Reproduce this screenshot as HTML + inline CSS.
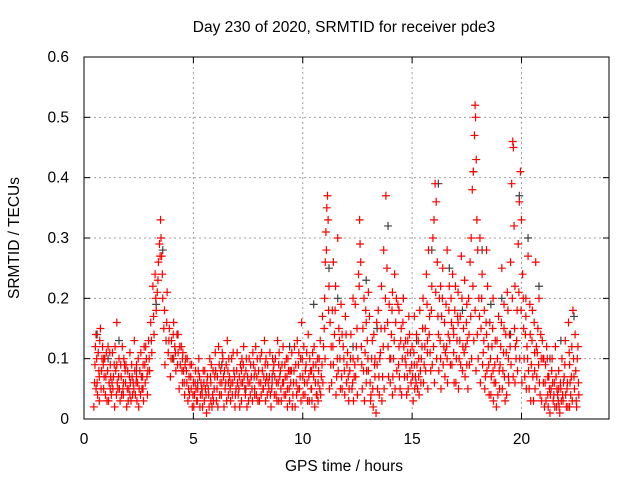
<!DOCTYPE html>
<html><head><meta charset="utf-8"><style>
body{margin:0;background:#fff}
svg{display:block;font-family:"Liberation Sans",sans-serif}
</style></head><body>
<svg id="chart" width="640" height="480" viewBox="0 0 640 480" xmlns="http://www.w3.org/2000/svg">
<rect width="640" height="480" fill="#fff"/>
<text x="344" y="32" font-size="15.5" text-anchor="middle">Day 230 of 2020, SRMTID for receiver pde3</text>
<g id="grid"></g>
<g id="ticks"></g>
<g id="black"></g>
<g id="red"></g>
<rect x="84" y="57" width="525" height="362" fill="none" stroke="#000" stroke-width="1"/>
<text x="344" y="471" font-size="15.5" text-anchor="middle">GPS time / hours</text>
<text transform="translate(19,238) rotate(-90)" font-size="15.5" text-anchor="middle">SRMTID / TECUs</text>
</svg>
<script>
const xTicks=[0,5,10,15,20];
const yTicks=[0,0.1,0.2,0.3,0.4,0.5,0.6];
const yTickLabels=["0","0.1","0.2","0.3","0.4","0.5","0.6"];
const blackData=[[0.6,0.14],[1.1,0.1],[1.6,0.13],[2.4,0.08],[3.3,0.19],[3.6,0.28],[4.1,0.1],[5.2,0.06],[6.3,0.09],[7.4,0.05],[8.6,0.07],[9.4,0.12],[10.5,0.19],[11.2,0.25],[11.6,0.2],[12.3,0.12],[12.9,0.23],[13.4,0.15],[13.9,0.32],[14.6,0.2],[15.2,0.13],[15.9,0.28],[16.2,0.39],[16.7,0.25],[17.3,0.18],[17.8,0.41],[18.2,0.28],[18.6,0.19],[19.1,0.2],[19.5,0.14],[19.9,0.37],[20.3,0.3],[20.8,0.22],[21.3,0.1],[21.8,0.13],[22.4,0.17]];
const redData=[
[0.45,0.02],[0.5,0.09],[0.55,0.14],[0.6,0.06],[0.65,0.11],[0.7,0.03],[0.75,0.15],[0.8,0.08],[0.85,0.12],[0.9,0.05],[0.95,0.1],[1.0,0.07],[1.05,0.03],[1.1,0.12],[1.15,0.06],[1.2,0.09],[1.25,0.04],[1.3,0.11],[1.35,0.07],[1.4,0.02],[1.45,0.08],[1.5,0.16],[1.55,0.05],[1.6,0.1],[1.65,0.03],[1.7,0.07],[1.75,0.12],[1.8,0.04],[1.85,0.09],[1.9,0.06],[1.95,0.02],[2.0,0.08],[2.05,0.05],[2.1,0.11],[2.15,0.03],[2.2,0.07],[2.25,0.06],[2.3,0.13],[2.35,0.04],[2.4,0.09],[2.45,0.06],[2.5,0.02],[2.55,0.08],[2.6,0.11],[2.65,0.05],[2.7,0.09],[2.75,0.12],[2.8,0.06],[2.85,0.1],[2.9,0.04],[2.95,0.13],[3.0,0.08],[3.05,0.16],[3.1,0.11],[3.15,0.22],[3.2,0.14],[3.25,0.24],[3.3,0.18],[3.35,0.21],[3.4,0.26],[3.45,0.29],[3.5,0.33],[3.52,0.3],[3.55,0.27],[3.6,0.2],[3.65,0.15],[3.7,0.09],[3.75,0.13],[3.8,0.21],[3.85,0.11],[3.9,0.15],[3.95,0.07],[4.0,0.13],[4.05,0.1],[4.1,0.16],[4.15,0.12],[4.2,0.08],[4.25,0.14],[4.3,0.11],[4.35,0.05],[4.4,0.09],[4.45,0.12],[4.5,0.06],[4.55,0.08],[4.6,0.04],[4.65,0.1],[4.7,0.06],[4.75,0.03],[4.8,0.07],[4.85,0.09],[4.9,0.05],[4.95,0.02],[5.0,0.06],[5.05,0.04],[5.1,0.08],[5.15,0.03],[5.2,0.05],[5.25,0.1],[5.3,0.02],[5.35,0.06],[5.4,0.04],[5.45,0.08],[5.5,0.03],[5.55,0.05],[5.6,0.01],[5.65,0.07],[5.7,0.04],[5.75,0.1],[5.8,0.06],[5.85,0.02],[5.9,0.08],[5.95,0.05],[6.0,0.11],[6.05,0.03],[6.1,0.07],[6.15,0.12],[6.2,0.04],[6.25,0.08],[6.3,0.06],[6.35,0.1],[6.4,0.02],[6.45,0.05],[6.5,0.09],[6.55,0.13],[6.6,0.04],[6.65,0.07],[6.7,0.03],[6.75,0.1],[6.8,0.06],[6.85,0.08],[6.9,0.02],[6.95,0.05],[7.0,0.11],[7.05,0.04],[7.1,0.07],[7.15,0.09],[7.2,0.03],[7.25,0.06],[7.3,0.12],[7.35,0.05],[7.4,0.08],[7.45,0.02],[7.5,0.06],[7.55,0.1],[7.6,0.04],[7.65,0.07],[7.7,0.03],[7.75,0.09],[7.8,0.05],[7.85,0.12],[7.9,0.07],[7.95,0.03],[8.0,0.06],[8.05,0.1],[8.1,0.04],[8.15,0.08],[8.2,0.05],[8.25,0.13],[8.3,0.03],[8.35,0.07],[8.4,0.09],[8.45,0.05],[8.5,0.11],[8.55,0.02],[8.6,0.06],[8.65,0.08],[8.7,0.04],[8.75,0.1],[8.8,0.06],[8.85,0.13],[8.9,0.03],[8.95,0.07],[9.0,0.05],[9.05,0.09],[9.1,0.12],[9.15,0.04],[9.2,0.07],[9.25,0.1],[9.3,0.05],[9.35,0.08],[9.4,0.03],[9.45,0.06],[9.5,0.11],[9.55,0.04],[9.6,0.08],[9.65,0.02],[9.7,0.06],[9.75,0.13],[9.8,0.09],[9.85,0.05],[9.9,0.1],[9.95,0.16],[10.0,0.07],[10.05,0.12],[10.1,0.04],[10.15,0.09],[10.2,0.06],[10.25,0.14],[10.3,0.03],[10.35,0.08],[10.4,0.05],[10.45,0.11],[10.5,0.07],[10.55,0.02],[10.6,0.09],[10.65,0.04],[10.7,0.06],[10.75,0.1],[10.8,0.13],[10.85,0.07],[10.9,0.17],[10.95,0.12],[11.0,0.2],[11.03,0.26],[11.06,0.31],[11.1,0.35],[11.13,0.37],[11.16,0.33],[11.2,0.22],[11.25,0.16],[11.3,0.12],[11.35,0.18],[11.4,0.09],[11.45,0.14],[11.5,0.22],[11.55,0.07],[11.6,0.3],[11.65,0.15],[11.7,0.1],[11.75,0.19],[11.8,0.05],[11.85,0.12],[11.9,0.08],[11.95,0.17],[12.0,0.06],[12.05,0.11],[12.1,0.03],[12.15,0.08],[12.2,0.14],[12.25,0.05],[12.3,0.1],[12.35,0.07],[12.4,0.19],[12.45,0.12],[12.5,0.04],[12.55,0.24],[12.6,0.33],[12.62,0.29],[12.65,0.26],[12.7,0.09],[12.75,0.15],[12.8,0.2],[12.85,0.11],[12.9,0.06],[12.95,0.13],[13.0,0.08],[13.05,0.17],[13.1,0.03],[13.15,0.1],[13.2,0.05],[13.25,0.14],[13.3,0.07],[13.35,0.01],[13.4,0.09],[13.45,0.18],[13.5,0.04],[13.55,0.11],[13.6,0.22],[13.65,0.07],[13.7,0.28],[13.75,0.15],[13.8,0.37],[13.85,0.25],[13.9,0.12],[13.95,0.19],[14.0,0.06],[14.05,0.14],[14.1,0.21],[14.15,0.1],[14.2,0.24],[14.25,0.16],[14.3,0.08],[14.35,0.19],[14.4,0.12],[14.45,0.05],[14.5,0.15],[14.55,0.1],[14.6,0.2],[14.65,0.07],[14.7,0.13],[14.75,0.04],[14.8,0.11],[14.85,0.17],[14.9,0.08],[14.95,0.06],[15.0,0.12],[15.05,0.03],[15.1,0.09],[15.15,0.07],[15.2,0.14],[15.25,0.05],[15.3,0.1],[15.35,0.18],[15.4,0.06],[15.45,0.12],[15.5,0.2],[15.55,0.09],[15.6,0.15],[15.65,0.24],[15.7,0.11],[15.75,0.28],[15.8,0.17],[15.85,0.08],[15.9,0.22],[15.95,0.3],[16.0,0.33],[16.05,0.39],[16.1,0.36],[16.15,0.26],[16.2,0.14],[16.25,0.2],[16.3,0.1],[16.35,0.17],[16.4,0.25],[16.45,0.12],[16.5,0.07],[16.55,0.19],[16.6,0.28],[16.65,0.14],[16.7,0.22],[16.75,0.09],[16.8,0.16],[16.85,0.24],[16.9,0.11],[16.95,0.18],[17.0,0.06],[17.05,0.13],[17.1,0.21],[17.15,0.1],[17.2,0.17],[17.25,0.27],[17.3,0.08],[17.35,0.15],[17.4,0.23],[17.45,0.12],[17.5,0.19],[17.55,0.05],[17.6,0.14],[17.65,0.26],[17.7,0.3],[17.75,0.38],[17.8,0.41],[17.85,0.47],[17.88,0.52],[17.9,0.5],[17.93,0.43],[17.96,0.33],[18.0,0.28],[18.05,0.2],[18.1,0.3],[18.15,0.15],[18.2,0.24],[18.25,0.11],[18.3,0.18],[18.35,0.07],[18.4,0.14],[18.45,0.22],[18.5,0.09],[18.55,0.16],[18.6,0.04],[18.65,0.12],[18.7,0.2],[18.75,0.06],[18.8,0.13],[18.85,0.02],[18.9,0.1],[18.95,0.17],[19.0,0.05],[19.05,0.12],[19.1,0.25],[19.15,0.08],[19.2,0.15],[19.25,0.03],[19.3,0.11],[19.35,0.21],[19.4,0.07],[19.45,0.14],[19.5,0.26],[19.55,0.39],[19.6,0.46],[19.63,0.45],[19.66,0.32],[19.7,0.22],[19.75,0.1],[19.8,0.18],[19.85,0.29],[19.9,0.36],[19.95,0.41],[20.0,0.33],[20.05,0.24],[20.1,0.15],[20.15,0.07],[20.2,0.2],[20.25,0.12],[20.3,0.27],[20.35,0.05],[20.4,0.14],[20.45,0.09],[20.5,0.18],[20.55,0.03],[20.6,0.11],[20.65,0.26],[20.7,0.07],[20.75,0.15],[20.8,0.2],[20.85,0.04],[20.9,0.1],[20.95,0.13],[21.0,0.06],[21.05,0.02],[21.1,0.09],[21.15,0.12],[21.2,0.04],[21.25,0.07],[21.3,0.01],[21.35,0.05],[21.4,0.1],[21.45,0.03],[21.5,0.06],[21.55,0.12],[21.6,0.02],[21.65,0.04],[21.7,0.08],[21.75,0.01],[21.8,0.05],[21.85,0.1],[21.9,0.03],[21.95,0.07],[22.0,0.13],[22.05,0.02],[22.1,0.06],[22.15,0.16],[22.2,0.09],[22.25,0.04],[22.3,0.12],[22.35,0.18],[22.4,0.07],[22.45,0.14],[22.5,0.03],[22.55,0.1],[22.6,0.06],
[0.7,0.07],[0.9,0.1],[1.2,0.05],[1.5,0.09],[1.8,0.06],[2.1,0.04],[2.4,0.07],[2.7,0.05],[4.3,0.14],[4.5,0.1],[5.4,0.05],[5.8,0.03],[6.6,0.06],[7.2,0.08],[7.8,0.04],[8.3,0.06],[8.9,0.09],[9.3,0.02],[10.4,0.08],[10.7,0.03],[11.4,0.26],[11.8,0.14],[12.3,0.2],[12.9,0.16],[13.3,0.1],[14.1,0.04],[14.4,0.18],[14.8,0.13],[15.3,0.07],[15.7,0.13],[16.3,0.22],[16.6,0.1],[17.1,0.16],[17.5,0.09],[18.4,0.28],[18.7,0.08],[19.2,0.19],[19.7,0.06],[20.2,0.17],[20.6,0.08],[21.2,0.07],[21.7,0.05],[22.2,0.02],[0.55,0.05],[13.0,0.21],[15.1,0.17],[16.9,0.14],[19.4,0.1]
];
const redDataExtra=[
[0.48,0.06],[0.58,0.1],[0.68,0.08],[0.78,0.05],[0.88,0.09],[0.98,0.04],[1.08,0.08],[1.18,0.11],[1.28,0.06],[1.38,0.09],[1.48,0.04],[1.58,0.07],[1.68,0.09],[1.78,0.05],[1.88,0.08],[1.98,0.05],[2.08,0.07],[2.18,0.09],[2.28,0.05],[2.38,0.06],[2.48,0.1],[2.58,0.04],[2.68,0.07],[2.78,0.09],[2.88,0.07],[2.98,0.1],[3.08,0.13],[3.18,0.17],[3.28,0.2],[3.38,0.23],[3.48,0.27],[3.58,0.24],[3.68,0.18],[3.78,0.16],[3.88,0.13],[3.98,0.1],[4.08,0.14],[4.18,0.11],[4.28,0.09],[4.38,0.12],[4.48,0.08],[4.58,0.06],[4.68,0.08],[4.78,0.05],[4.88,0.07],[4.98,0.04],[5.08,0.06],[5.18,0.03],[5.28,0.07],[5.38,0.05],[5.48,0.06],[5.58,0.04],[5.68,0.05],[5.78,0.07],[5.88,0.04],[5.98,0.07],[6.08,0.05],[6.18,0.09],[6.28,0.04],[6.38,0.07],[6.48,0.06],[6.58,0.08],[6.68,0.05],[6.78,0.04],[6.88,0.07],[6.98,0.08],[7.08,0.05],[7.18,0.06],[7.28,0.09],[7.38,0.04],[7.48,0.07],[7.58,0.06],[7.68,0.05],[7.78,0.07],[7.88,0.04],[7.98,0.08],[8.08,0.06],[8.18,0.05],[8.28,0.09],[8.38,0.04],[8.48,0.07],[8.58,0.05],[8.68,0.09],[8.78,0.04],[8.88,0.06],[8.98,0.08],[9.08,0.06],[9.18,0.09],[9.28,0.07],[9.38,0.05],[9.48,0.08],[9.58,0.06],[9.68,0.09],[9.78,0.05],[9.88,0.07],[9.98,0.1],[10.08,0.06],[10.18,0.11],[10.28,0.07],[10.38,0.05],[10.48,0.09],[10.58,0.06],[10.68,0.1],[10.78,0.05],[10.88,0.09],[10.98,0.15],[11.08,0.28],[11.18,0.18],[11.28,0.09],[11.38,0.12],[11.48,0.18],[11.58,0.1],[11.68,0.13],[11.78,0.07],[11.88,0.1],[11.98,0.14],[12.08,0.07],[12.18,0.1],[12.28,0.06],[12.38,0.09],[12.48,0.15],[12.58,0.22],[12.68,0.12],[12.78,0.08],[12.88,0.18],[12.98,0.1],[13.08,0.06],[13.18,0.13],[13.28,0.09],[13.38,0.16],[13.48,0.07],[13.58,0.15],[13.68,0.12],[13.78,0.2],[13.88,0.16],[13.98,0.1],[14.08,0.18],[14.18,0.13],[14.28,0.2],[14.38,0.09],[14.48,0.13],[14.58,0.16],[14.68,0.1],[14.78,0.07],[14.88,0.14],[14.98,0.09],[15.08,0.11],[15.18,0.06],[15.28,0.13],[15.38,0.08],[15.48,0.15],[15.58,0.12],[15.68,0.19],[15.78,0.14],[15.88,0.18],[15.98,0.12],[16.08,0.21],[16.18,0.17],[16.28,0.13],[16.38,0.2],[16.48,0.16],[16.58,0.12],[16.68,0.18],[16.78,0.2],[16.88,0.15],[16.98,0.22],[17.08,0.17],[17.18,0.13],[17.28,0.2],[17.38,0.11],[17.48,0.16],[17.58,0.2],[17.68,0.17],[17.78,0.22],[17.88,0.18],[17.98,0.14],[18.08,0.17],[18.18,0.2],[18.28,0.13],[18.38,0.16],[18.48,0.12],[18.58,0.1],[18.68,0.15],[18.78,0.09],[18.88,0.13],[18.98,0.08],[19.08,0.16],[19.18,0.11],[19.28,0.14],[19.38,0.18],[19.48,0.12],[19.58,0.2],[19.68,0.15],[19.78,0.13],[19.88,0.21],[19.98,0.18],[20.08,0.2],[20.18,0.14],[20.28,0.1],[20.38,0.19],[20.48,0.13],[20.58,0.16],[20.68,0.12],[20.78,0.09],[20.88,0.14],[20.98,0.1],[21.08,0.06],[21.18,0.1],[21.28,0.05],[21.38,0.08],[21.48,0.04],[21.58,0.07],[21.68,0.03],[21.78,0.06],[21.88,0.04],[21.98,0.09],[22.08,0.05],[22.18,0.11],[22.28,0.07],[22.38,0.1],[22.48,0.08],[22.58,0.12],
[0.52,0.12],[0.62,0.04],[0.72,0.13],[0.82,0.1],[0.92,0.07],[1.02,0.11],[1.12,0.03],[1.22,0.07],[1.32,0.05],[1.42,0.12],[1.52,0.06],[1.62,0.05],[1.72,0.04],[1.82,0.1],[1.92,0.09],[2.02,0.03],[2.12,0.06],[2.22,0.04],[2.32,0.08],[2.42,0.03],[2.52,0.05],[2.62,0.07],[2.72,0.03],[2.82,0.12],[2.92,0.08],[4.52,0.11],[4.62,0.09],[4.72,0.1],[4.82,0.04],[4.92,0.09],[5.02,0.02],[5.12,0.05],[5.22,0.08],[5.32,0.04],[5.42,0.02],[5.52,0.08],[5.62,0.06],[5.72,0.02],[5.82,0.09],[5.92,0.03],[6.02,0.08],[6.12,0.02],[6.22,0.06],[6.32,0.11],[6.42,0.08],[6.52,0.03],[6.62,0.1],[6.72,0.06],[6.82,0.11],[6.92,0.04],[7.02,0.06],[7.12,0.02],[7.22,0.1],[7.32,0.07],[7.42,0.1],[7.52,0.03],[7.62,0.09],[7.72,0.11],[7.82,0.08],[7.92,0.1],[8.02,0.03],[8.12,0.11],[8.22,0.07],[8.32,0.1],[8.42,0.06],[8.52,0.04],[8.62,0.1],[8.72,0.07],[8.82,0.03],[8.92,0.11],[9.02,0.03],[9.12,0.06],[9.22,0.04],[9.32,0.1],[9.42,0.08],[9.52,0.02],[9.62,0.12],[9.72,0.04],[9.82,0.11],[9.92,0.03],[10.02,0.04],[10.12,0.08],[10.22,0.03],[10.32,0.1],[10.42,0.03],[10.52,0.12],[10.62,0.04],[10.72,0.08],[10.82,0.04],[10.92,0.06],[11.02,0.1],[11.22,0.05],[11.32,0.06],[11.52,0.04],[11.62,0.08],[11.72,0.05],[11.92,0.04],[12.02,0.09],[12.12,0.05],[12.32,0.03],[12.42,0.07],[12.52,0.1],[12.72,0.05],[12.82,0.03],[12.92,0.08],[13.12,0.04],[13.22,0.02],[13.42,0.05],[13.52,0.1],[13.62,0.03],[13.72,0.05],[13.92,0.07],[14.02,0.1],[14.12,0.07],[14.22,0.05],[14.42,0.07],[14.52,0.04],[14.62,0.12],[14.72,0.09],[14.82,0.05],[14.92,0.11],[15.02,0.07],[15.12,0.05],[15.22,0.09],[15.32,0.04],[15.42,0.1],[15.52,0.06],[15.62,0.08],[15.72,0.05],[15.82,0.11],[15.92,0.09],[16.02,0.06],[16.12,0.1],[16.22,0.08],[16.32,0.05],[16.42,0.09],[16.52,0.11],[16.62,0.06],[16.72,0.13],[16.82,0.09],[16.92,0.06],[17.02,0.1],[17.12,0.05],[17.22,0.09],[17.32,0.12],[17.42,0.07],[17.52,0.13],[17.62,0.09],[17.72,0.1],[17.82,0.13],[17.92,0.08],[18.02,0.1],[18.12,0.06],[18.22,0.09],[18.32,0.05],[18.42,0.08],[18.52,0.04],[18.62,0.07],[18.72,0.03],[18.82,0.06],[18.92,0.04],[19.02,0.09],[19.12,0.05],[19.22,0.07],[19.32,0.04],[19.42,0.06],[19.52,0.09],[19.62,0.07],[19.72,0.12],[19.82,0.08],[19.92,0.1],[20.02,0.06],[20.12,0.1],[20.22,0.05],[20.32,0.08],[20.42,0.03],[20.52,0.07],[20.62,0.05],[20.72,0.11],[20.82,0.06],[20.92,0.03],[21.02,0.1],[21.12,0.03],[21.22,0.02],[21.32,0.04],[21.42,0.06],[21.52,0.02],[21.62,0.05],[21.72,0.02],[21.82,0.03],[21.92,0.06],[22.02,0.04],[22.12,0.02],[22.22,0.06],[22.32,0.03],[22.42,0.05],[22.52,0.02],[22.62,0.04]
];
const X0=84,X1=609,Y0=419,Y1=57,XMAX=24,YMAX=0.6;
function xs(v){return X0+(v/XMAX)*(X1-X0);}
function ys(v){return Y0-(v/YMAX)*(Y0-Y1);}
const NS="http://www.w3.org/2000/svg";
const grid=document.getElementById('grid'),ticks=document.getElementById('ticks');
function line(g,x1,y1,x2,y2,st,dash){const l=document.createElementNS(NS,'line');l.setAttribute('x1',x1);l.setAttribute('y1',y1);l.setAttribute('x2',x2);l.setAttribute('y2',y2);l.setAttribute('stroke',st);if(dash)l.setAttribute('stroke-dasharray',dash);g.appendChild(l);return l;}
function txt(g,x,y,s,anchor){const t=document.createElementNS(NS,'text');t.setAttribute('x',x);t.setAttribute('y',y);t.setAttribute('font-size','15.5');t.setAttribute('text-anchor',anchor);t.textContent=s;g.appendChild(t);return t;}
xTicks.forEach(v=>{const x=xs(v);
 if(v>0){const gl=line(grid,x,Y1,x,Y0,'#a0a0a0','2,3');
 
 }
 line(ticks,x,Y0,x,Y0-6,'#000');line(ticks,x,Y1,x,Y1+6,'#000');
 const t=txt(ticks,x,444,String(v),'middle');
 
 });
yTicks.forEach((v,i)=>{const y=ys(v);
 if(v>0&&v<YMAX){const gl=line(grid,X0,y,X1,y,'#a0a0a0','2,3');
 
 }
 line(ticks,X0,y,X0+6,y,'#000');line(ticks,X1,y,X1-6,y,'#000');
 const t=txt(ticks,69,y+5,yTickLabels[i],'end');
 
 });
function plot(gid,data,color,tag){const g=document.getElementById(gid);let d='';
 data.forEach(p=>{const x=xs(p[0]),y=ys(p[1]);d+='M'+(x-4)+' '+y+'h8M'+x+' '+(y-4)+'v8';});
 const pa=document.createElementNS(NS,'path');pa.setAttribute('d',d);pa.setAttribute('stroke',color);pa.setAttribute('stroke-width','1.2');pa.setAttribute('fill','none');
 
 
 g.appendChild(pa);}
plot('black',blackData,'#404040','black-points');
plot('red',redData,'#ff0000','red-points');
plot('red',redDataExtra,'#ff0000','red-points-extra');
</script>
</body></html>
